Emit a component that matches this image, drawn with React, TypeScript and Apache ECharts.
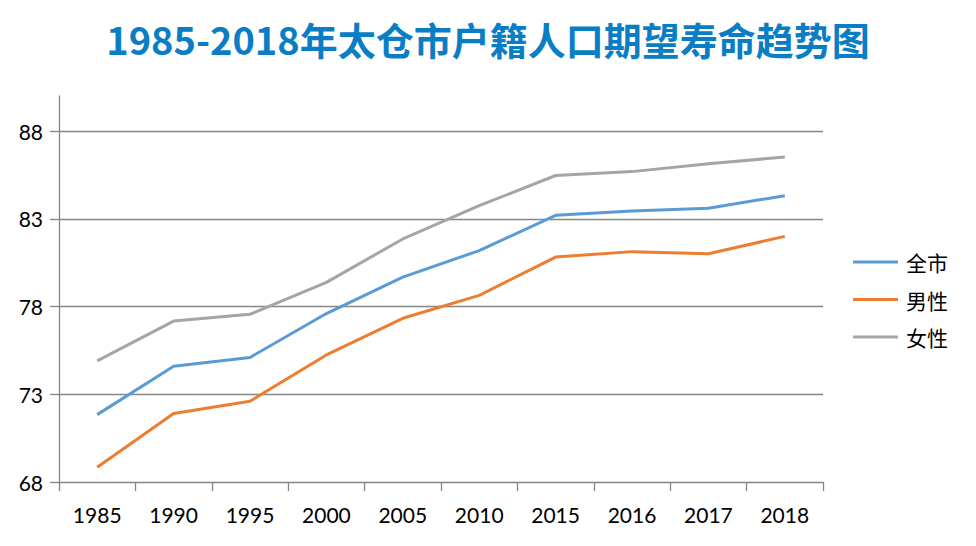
import React, { useEffect, useRef } from "react";
import * as echarts from "echarts";

const years = ["1985", "1990", "1995", "2000", "2005", "2010", "2015", "2016", "2017", "2018"];
const cityAll = [71.84, 74.6, 75.1, 77.6, 79.68, 81.19, 83.2, 83.44, 83.6, 84.32];
const male = [68.84, 71.9, 72.6, 75.24, 77.33, 78.64, 80.82, 81.13, 81.01, 82.0];
const female = [74.9, 77.17, 77.56, 79.38, 81.85, 83.75, 85.47, 85.69, 86.14, 86.52];
const yTicks = [68, 73, 78, 83, 88];

const axisGray = "#868686";
const labelFont = "Lato, 'Noto Sans CJK SC', sans-serif";

export default function App() {
  const ref = useRef<HTMLDivElement>(null);
  useEffect(() => {
    if (!ref.current) return;
    const chart = echarts.init(ref.current, undefined, { renderer: "svg" });
    chart.setOption({
      animation: false,
      backgroundColor: "#ffffff",
      title: {
        text: "1985-2018年太仓市户籍人口期望寿命趋势图",
        left: "center",
        top: 14,
        textStyle: {
          color: "#0a7ec4",
          fontSize: 38,
          fontWeight: "bold",
          fontFamily: "'Noto Sans CJK SC', sans-serif",
        },
      },
      legend: {
        orient: "vertical",
        left: 848,
        top: 246,
        icon: "rect",
        itemWidth: 45,
        itemHeight: 3,
        itemGap: 15.5,
        textStyle: {
          fontSize: 21,
          lineHeight: 22,
          color: "#000",
          fontFamily: "'Noto Sans CJK SC', sans-serif",
          padding: [0, 0, 0, 3],
        },
        data: ["全市", "男性", "女性"],
      },
      grid: { left: 59, right: 153, top: 96, bottom: 64, containLabel: false },
      xAxis: {
        type: "category",
        data: years,
        boundaryGap: true,
        axisLine: { lineStyle: { color: axisGray, width: 1.3 } },
        axisTick: { show: true, interval: 0, length: 9, lineStyle: { color: axisGray, width: 1.3 } },
        axisLabel: { interval: 0, margin: 22, color: "#000", fontSize: 21, fontFamily: labelFont },
        splitLine: { show: false },
      },
      yAxis: {
        type: "value",
        min: 68,
        max: 90,
        interval: 5,
        axisLine: { show: true, lineStyle: { color: axisGray, width: 1.3 } },
        axisTick: {
          show: true,
          length: 9,
          customValues: yTicks,
          lineStyle: { color: axisGray, width: 1.3 },
        },
        axisLabel: {
          margin: 16,
          color: "#000",
          fontSize: 21,
          fontFamily: labelFont,
          customValues: yTicks,
        },
        splitLine: {
          show: true,
          showMinLine: false,
          lineStyle: { color: axisGray, width: 1.3 },
        },
      },
      series: [
        {
          name: "全市",
          type: "line",
          data: cityAll,
          showSymbol: false,
          symbol: "none",
          lineStyle: { color: "#5b9bd5", width: 3 },
          itemStyle: { color: "#5b9bd5" },
        },
        {
          name: "男性",
          type: "line",
          data: male,
          showSymbol: false,
          symbol: "none",
          lineStyle: { color: "#ed7d31", width: 3 },
          itemStyle: { color: "#ed7d31" },
        },
        {
          name: "女性",
          type: "line",
          data: female,
          showSymbol: false,
          symbol: "none",
          lineStyle: { color: "#a5a5a5", width: 3 },
          itemStyle: { color: "#a5a5a5" },
        },
      ],
    });
    return () => chart.dispose();
  }, []);
  return <div ref={ref} style={{ width: 976, height: 546, margin: -8 }} />;
}
